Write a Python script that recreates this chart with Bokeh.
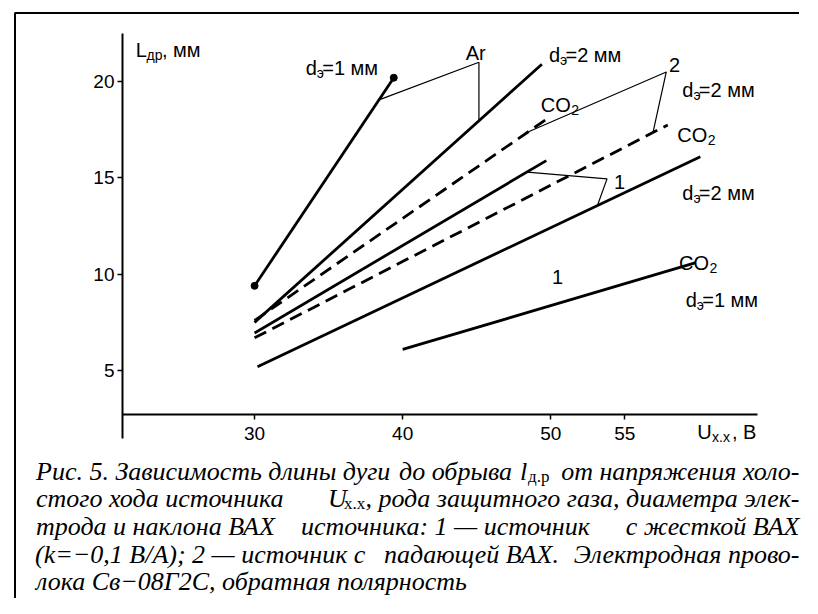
from bokeh.plotting import figure
from bokeh.models import Range1d, LinearAxis, FixedTicker
from bokeh.core.properties import value
from bokeh.embed import file_html
from bokeh.resources import INLINE

# ---------------- data (U_xx in V, L in mm) ----------------
x_ticks = [30, 40, 50, 55]
y_ticks = [5, 10, 15, 20]

# Ar, d=1 mm (with end points)
ar_d1_u = [30.0, 39.4]
ar_d1_l = [9.4, 20.2]
# Ar, d=2 mm
ar_d2_u = [30.0, 49.4]
ar_d2_l = [7.5, 20.9]
# CO2, source 2 (dashed, upper)
co2_a_u = [30.0, 50.0]
co2_a_l = [7.6, 18.2]
# source 1 (solid, middle)
s1_mid_u = [30.0, 49.7]
s1_mid_l = [6.95, 15.9]
# CO2, d=2 mm, source 2 (dashed, lower)
co2_b_u = [30.0, 57.9]
co2_b_l = [6.7, 17.75]
# d=2 mm, source 1 (solid, lower)
s1_d2_u = [30.2, 60.1]
s1_d2_l = [5.2, 16.1]
# CO2, d=1 mm, source 1
co2_d1_u = [40.0, 59.8]
co2_d1_l = [6.1, 10.6]

# leader lines of the labels "Ar", "2", "1"
lead_ar_u = [38.4, 45.15, 45.15]
lead_ar_l = [19.05, 21.0, 17.95]
lead_2_u = [48.5, 57.8, 56.9]
lead_2_l = [17.4, 20.5, 17.35]
lead_1_u = [48.4, 53.8, 53.15]
lead_1_l = [15.3, 14.95, 13.57]

# ---------------- page geometry ----------------
W, H = 802, 598
ORIGIN_X, ORIGIN_Y = 1.5, 0.5   # where the canvas lands in the picture


def px2x(px):
    return 43.75 + (px - 459.2) / 14.81


def py2y(py):
    return 12.5 - (py - 226.1) / 19.27


p = figure(width=W, height=H, output_backend="svg", toolbar_location=None,
           x_range=Range1d(px2x(ORIGIN_X), px2x(ORIGIN_X + W)),
           y_range=Range1d(py2y(ORIGIN_Y + H), py2y(ORIGIN_Y)),
           x_axis_type=None, y_axis_type=None, min_border=0)
p.outline_line_color = None
p.background_fill_color = "white"
p.border_fill_color = "white"

SANS = "Liberation Sans"
SERIF = "Liberation Serif"


def style_axis(ax, standoff):
    ax.axis_line_width = 2
    ax.axis_line_color = "black"
    ax.major_tick_line_width = 1.5
    ax.major_tick_line_color = "black"
    ax.major_tick_out = 5
    ax.major_tick_in = 0
    ax.minor_tick_out = 0
    ax.minor_tick_in = 0
    ax.major_label_text_font = SANS
    ax.major_label_text_font_size = "19px"
    ax.major_label_text_color = "black"
    ax.major_label_standoff = standoff


ya = LinearAxis(ticker=FixedTicker(ticks=y_ticks, minor_ticks=[]),
                fixed_location=px2x(123.5), bounds=(py2y(438), py2y(33)))
style_axis(ya, 3)
p.add_layout(ya, "left")

xa = LinearAxis(ticker=FixedTicker(ticks=x_ticks, minor_ticks=[]),
                fixed_location=py2y(414), bounds=(px2x(123.5), px2x(758)))
style_axis(xa, 8)
p.add_layout(xa, "below")

# frame of the figure
p.line(x=[px2x(16), px2x(16), px2x(800)], y=[py2y(620), py2y(13), py2y(13)],
       line_width=2, line_color="black")

# curves
MAIN = 2.8
DASH = "13 7"
p.line(ar_d1_u, ar_d1_l, line_width=MAIN, line_color="black")
p.scatter(ar_d1_u, ar_d1_l, size=7, color="black")
p.line(ar_d2_u, ar_d2_l, line_width=MAIN, line_color="black")
p.line(co2_a_u, co2_a_l, line_width=MAIN, line_color="black", line_dash=DASH)
p.line(s1_mid_u, s1_mid_l, line_width=MAIN, line_color="black")
p.line(co2_b_u, co2_b_l, line_width=MAIN, line_color="black", line_dash=DASH)
p.line(s1_d2_u, s1_d2_l, line_width=MAIN, line_color="black")
p.line(co2_d1_u, co2_d1_l, line_width=MAIN, line_color="black")

for lx, ly in [(lead_ar_u, lead_ar_l), (lead_2_u, lead_2_l), (lead_1_u, lead_1_l)]:
    p.line(lx, ly, line_width=1.2, line_color="black")


def txt(xp, yp, s, size, font=SANS, style="normal", align="left"):
    p.text(x=[px2x(xp)], y=[py2y(yp)], text=[s], text_font=value(font),
           text_font_size=f"{size}px", text_font_style=style, text_align=align,
           text_baseline="alphabetic", text_color="black")


def d_label(xp, yp, rest):
    txt(xp, yp, "d", 20)
    txt(xp + 11.1, yp + 5, "э", 14)
    txt(xp + 16.5, yp, rest, 20)


def co2(xp, yp):
    txt(xp, yp, "CO", 20)
    txt(xp + 30.5, yp + 5, "2", 14)


# axis titles
txt(136.7, 50, "L", 20)
txt(147.5, 55, "др", 14)
txt(163, 50, ", мм", 20)
txt(698.3, 431.7, "U", 20)
txt(713, 436.5, "х.х", 14)
txt(733, 431.7, ", В", 20)

# curve labels
d_label(306.7, 68, "=1 мм")
txt(466.7, 53, "Ar", 20)
d_label(550, 55, "=2 мм")
txt(670, 65, "2", 20)
d_label(683.3, 90, "=2 мм")
co2(541.7, 105)
co2(678.3, 135)
txt(615, 181.7, "1", 20)
d_label(683.3, 193.3, "=2 мм")
co2(680, 263.3)
txt(553, 276.7, "1", 20)
d_label(686.7, 300, "=1 мм")

# caption (justified lines approximated by segments)
CS = 26
SUBS = 17
R = ORIGIN_X + W - 3
b1, b2, b3, b4, b5 = 471, 498.5, 526, 554, 581.5
txt(37, b1, "Рис. 5. Зависимость длины дуги", CS, SERIF, "italic")
txt(400, b1, "до обрыва", CS, SERIF, "italic")
txt(521, b1, "l", CS, SERIF, "italic")
txt(529, b1 + 5, "д.р", SUBS, SERIF)
txt(R, b1, "от напряжения холо-", CS, SERIF, "italic", "right")

txt(37, b2, "стого хода источника", CS, SERIF, "italic")
txt(329, b2, "U", CS, SERIF, "italic")
txt(345, b2 + 5, "х.х", SUBS, SERIF)
txt(R, b2, ", рода защитного газа, диаметра элек-", CS, SERIF, "italic", "right")

txt(37, b3, "трода и наклона ВАХ", CS, SERIF, "italic")
txt(302, b3, "источника: 1 — источник", CS, SERIF, "italic")
txt(R, b3, "с жесткой ВАХ", CS, SERIF, "italic", "right")

txt(36, b4, "(k=−0,1 В/А); 2 — источник с", CS, SERIF, "italic")
txt(385, b4, "падающей ВАХ.", CS, SERIF, "italic")
txt(R, b4, "Электродная прово-", CS, SERIF, "italic", "right")

txt(37, b5, "лока Св−08Г2С, обратная полярность", CS, SERIF, "italic")

open("out.html", "w").write(file_html(p, INLINE))
